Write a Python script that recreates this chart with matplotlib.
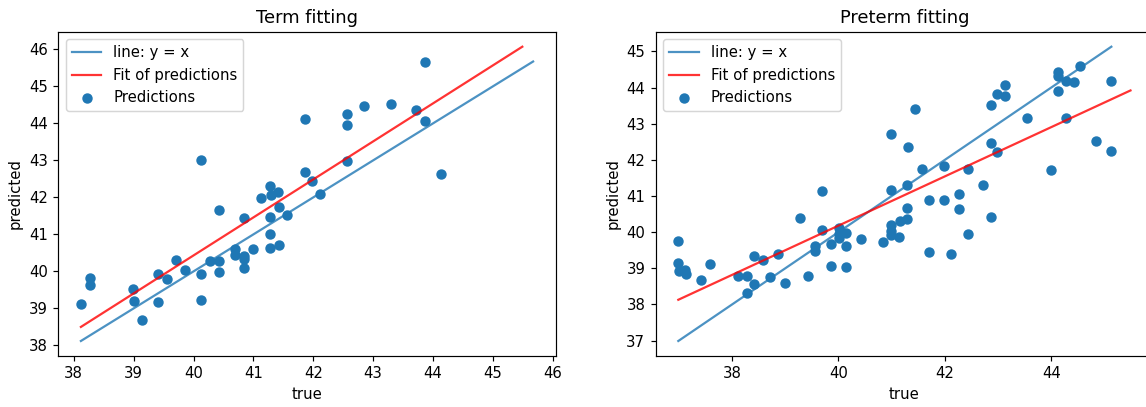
import numpy as np
import matplotlib
matplotlib.use("Agg")
import matplotlib.pyplot as plt

# term model: true vs predicted values
termTrue = [38.12, 38.27, 38.27, 38.99, 39.00, 39.14, 39.40, 39.40, 39.55, 39.70,
            39.85, 40.12, 40.12, 40.12, 40.27, 40.42, 40.42, 40.42, 40.69, 40.69,
            40.84, 40.84, 40.84, 40.84, 40.99, 41.13, 41.28, 41.30, 41.41, 41.28,
            41.42, 41.56, 41.28, 41.28, 41.42, 41.86, 41.86, 41.98, 42.12, 42.57,
            42.57, 42.57, 42.84, 43.29, 43.71, 43.86, 43.86, 44.13]
termPred = [39.11, 39.83, 39.63, 39.52, 39.20, 38.68, 39.92, 39.16, 39.79, 40.32,
            40.03, 39.92, 39.24, 43.00, 40.27, 41.67, 40.27, 39.98, 40.60, 40.45,
            41.44, 40.42, 40.33, 40.08, 40.60, 41.97, 42.30, 42.07, 42.15, 41.47,
            41.75, 41.53, 41.00, 40.64, 40.72, 44.12, 42.68, 42.44, 42.08, 44.25,
            43.96, 42.97, 44.48, 44.52, 44.37, 45.67, 44.05, 42.64]
termFitX = [38.12, 45.49]
termFitY = [38.50, 46.07]

# preterm model: true vs predicted values
pretermTrue = [36.99, 36.99, 37.00, 37.12, 37.13, 37.42, 37.58, 38.12, 38.28, 38.28,
               38.42, 38.42, 38.58, 38.72, 38.86, 39.00, 39.28, 39.42, 39.56, 39.56,
               39.70, 39.70, 39.86, 39.86, 40.01, 40.01, 40.01, 40.15, 40.15, 40.15,
               40.42, 40.84, 40.98, 40.98, 40.99, 40.99, 40.98, 41.14, 41.15, 41.29,
               41.29, 41.29, 41.30, 41.43, 41.57, 41.70, 41.70, 41.98, 41.98, 42.12,
               42.26, 42.26, 42.43, 42.43, 42.71, 42.86, 42.86, 42.86, 42.99, 42.99,
               43.13, 43.13, 43.55, 43.99, 44.13, 44.13, 44.13, 44.28, 44.43, 44.55,
               44.28, 44.84, 45.13, 45.13]
pretermPred = [39.75, 39.15, 38.92, 38.95, 38.84, 38.69, 39.11, 38.80, 38.80, 38.32,
               39.35, 38.56, 39.22, 38.76, 39.40, 38.59, 40.38, 38.80, 39.61, 39.49,
               40.05, 41.15, 39.66, 39.06, 40.12, 39.94, 39.84, 39.98, 39.61, 39.03,
               39.82, 39.73, 39.92, 40.02, 40.19, 41.17, 42.72, 39.86, 40.31, 40.37,
               40.67, 41.30, 42.36, 43.40, 41.76, 40.88, 39.44, 41.83, 40.88, 39.40,
               41.06, 40.63, 41.76, 39.94, 41.30, 43.52, 42.46, 40.43, 43.83, 42.21,
               44.08, 43.78, 43.16, 41.71, 44.44, 44.33, 43.90, 44.17, 44.15, 44.61,
               43.16, 42.53, 44.19, 42.25]
pretermFitX = [36.99, 45.49]
pretermFitY = [38.13, 43.92]

W, H = 1146, 407
DPI = 107
fig = plt.figure(figsize=(W / DPI, H / DPI), dpi=DPI)
axTerm = fig.add_axes([58.3 / W, 1 - 355.7 / H, 497.4 / W, 323.7 / H])
axPreterm = fig.add_axes([655.7 / W, 1 - 355.7 / H, 497.4 / W, 323.7 / H])


def drawPanel(ax, trueVals, predVals, fitX, fitY, title):
    lo = min(min(trueVals), min(predVals))
    hi = max(max(trueVals), max(predVals))
    ax.plot([lo, hi], [lo, hi], color="C0", alpha=0.8, label="line: y = x")
    ax.plot(fitX, fitY, color="red", alpha=0.8, label="Fit of predictions")
    ax.scatter(trueVals, predVals, color="C0", label="Predictions")
    ax.set_title(title)
    ax.set_xlabel("true")
    ax.set_ylabel("predicted")
    ax.legend(loc="upper left")


drawPanel(axTerm, termTrue, termPred, termFitX, termFitY, "Term fitting")
drawPanel(axPreterm, pretermTrue, pretermPred, pretermFitX, pretermFitY, "Preterm fitting")

fig.savefig("out.png", dpi=DPI)
